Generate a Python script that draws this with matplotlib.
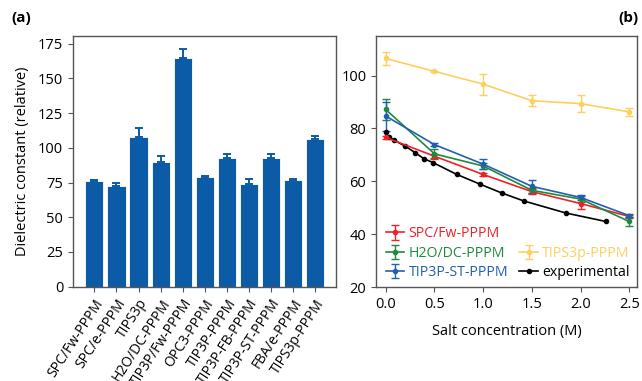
import matplotlib
matplotlib.use("Agg")
import matplotlib.pyplot as plt
from matplotlib.lines import Line2D
import numpy as np

plt.rcParams['font.family'] = ['Open Sans', 'DejaVu Sans']

# ---- panel (a) data ----
models = ["SPC/Fw-PPPM", "SPC/e-PPPM", "TIPS3p", "H2O/DC-PPPM", "TIP3P/Fw-PPPM",
          "OPC3-PPPM", "TIP3P-PPPM", "TIP3P-FB-PPPM", "TIP3P-ST-PPPM", "FBA/e-PPPM",
          "TIPS3p-PPPM"]
eps_vals = [76, 72.5, 108, 90, 165, 79, 92.5, 74, 92.5, 77, 106]
eps_err = [0.5, 2, 6.5, 4, 6.5, 0.5, 3, 3.5, 3, 0.5, 2.5]

# ---- panel (b) data ----
salt = [0.0, 0.5, 1.0, 1.5, 2.0, 2.5]
spcfw = [76.6, 69.5, 62.6, 56.1, 51.6, 46.7]
spcfw_err = [0.5, 1.0, 0.6, 1.0, 2.2, 0.5]
h2odc = [87.2, 70.4, 65.8, 56.6, 53.3, 44.8]
h2odc_err = [4.0, 1.7, 1.0, 1.0, 1.0, 1.6]
tip3pst = [84.7, 73.9, 66.5, 58.1, 53.9, 47.0]
tip3pst_err = [5.5, 0.5, 1.8, 2.4, 1.1, 0.5]
tips3p = [106.5, 101.6, 96.8, 90.5, 89.4, 86.3]
tips3p_err = [2.3, 0.3, 4.0, 2.0, 3.3, 1.6]
exp_x = [0.0, 0.03, 0.085, 0.2, 0.3, 0.39, 0.49, 0.73, 0.97, 1.19, 1.415, 1.85, 2.26]
exp_y = [78.5, 76.8, 75.6, 73.3, 70.9, 68.6, 67.0, 62.6, 58.9, 55.6, 52.6, 48.0, 44.8]

bar_color = "#0c5ba7"
c_red = "#ec2227"
c_green = "#1e8a3e"
c_blue = "#2160ae"
c_yellow = "#fdcf5e"
spine_c = "#555555"
fs = 10.5

fig = plt.figure(figsize=(6.42, 3.81), dpi=100)
ax1 = fig.add_axes([0.1137, 0.2475, 0.4097, 0.658])
ax2 = fig.add_axes([0.5857, 0.2467, 0.4065, 0.6588])

# ---- panel (a) ----
x = np.arange(len(models))
ax1.bar(x, eps_vals, width=0.82, color=bar_color, edgecolor="white", linewidth=0.6, zorder=2)
ax1.errorbar(x, eps_vals, yerr=[np.zeros(len(eps_err)), eps_err], fmt="none",
             ecolor=bar_color, elinewidth=1.4, capsize=3, capthick=1.4, zorder=3)
ax1.set_xlim(-0.97, 10.95)
ax1.set_ylim(0, 180.5)
ax1.set_yticks([0, 25, 50, 75, 100, 125, 150, 175])
ax1.set_xticks(x)
ax1.set_xticklabels(models, rotation=57, ha="right", rotation_mode="anchor", fontsize=10)
ax1.set_ylabel("Dielectric constant (relative)", fontsize=fs, labelpad=6)
ax1.tick_params(axis="y", labelsize=fs)

# ---- panel (b) ----
series = [(spcfw, spcfw_err, c_red, "SPC/Fw-PPPM"),
          (h2odc, h2odc_err, c_green, "H2O/DC-PPPM"),
          (tip3pst, tip3pst_err, c_blue, "TIP3P-ST-PPPM"),
          (tips3p, tips3p_err, c_yellow, "TIPS3p-PPPM")]
handles = {}
for vals, errs, col, lab in series:
    h = ax2.errorbar(salt, vals, yerr=errs, color=col, marker="o", markersize=3,
                     linewidth=1.2, elinewidth=1.0, capsize=3, capthick=1.0, label=lab)
    handles[lab] = h
hexp, = ax2.plot(exp_x, exp_y, color="black", marker="o", markersize=3, linewidth=1.2,
                 label="experimental")
ax2.set_xlim(-0.1, 2.58)
ax2.set_ylim(20, 115)
ax2.set_xticks(salt)
ax2.set_xticklabels(["0.0", "0.5", "1.0", "1.5", "2.0", "2.5"])
ax2.set_yticks([20, 40, 60, 80, 100])
ax2.tick_params(labelsize=fs)
ax2.set_xlabel("Salt concentration (M)", fontsize=fs, labelpad=9)

blank = Line2D([], [], linestyle="none", marker="none")
leg_handles = [handles["SPC/Fw-PPPM"], handles["H2O/DC-PPPM"], handles["TIP3P-ST-PPPM"],
               blank, handles["TIPS3p-PPPM"], hexp]
leg_labels = ["SPC/Fw-PPPM", "H2O/DC-PPPM", "TIP3P-ST-PPPM", "", "TIPS3p-PPPM", "experimental"]
leg = ax2.legend(leg_handles, leg_labels, ncol=2, frameon=False, fontsize=10.2,
                 loc="lower left", bbox_to_anchor=(0.01, 0.0), handlelength=1.3,
                 handletextpad=0.3, columnspacing=0.8, labelspacing=0.3, borderaxespad=0.2,
                 borderpad=0.3)
leg_colors = [c_red, c_green, c_blue, "black", c_yellow, "black"]
for t, c in zip(leg.get_texts(), leg_colors):
    t.set_color(c)

for ax in (ax1, ax2):
    for s in ax.spines.values():
        s.set_color(spine_c)
        s.set_linewidth(1.0)
    ax.tick_params(direction="out", length=3.5, color=spine_c, top=False, right=False)

fig.text(0.018, 0.952, "(a)", fontsize=11, fontweight="bold", va="center")
fig.text(0.995, 0.952, "(b)", fontsize=11, fontweight="bold", va="center", ha="right")

fig.savefig("out.png", dpi=100)
